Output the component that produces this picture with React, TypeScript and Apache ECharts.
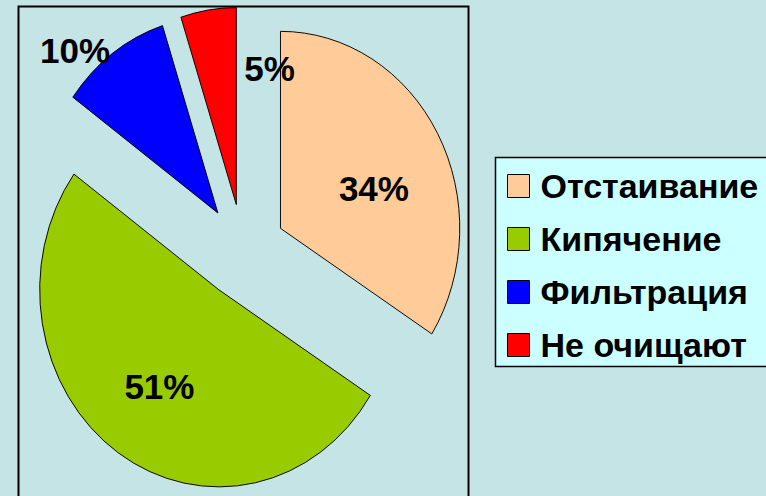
import React, { useEffect, useRef } from "react";
import * as echarts from "echarts";

const categories = ["Отстаивание", "Кипячение", "Фильтрация", "Не очищают"];
const values = [34, 51, 10, 5];
const colors = ["#FFCC99", "#99CC00", "#0000FF", "#FF0000"];

// layout (not data): pie centre, radius, horizontal squash, explode distance
const CX = 243;
const CY = 251;
const R = 197;
const K = 0.91;
const EXPLODE = 47;
// label placement per slice: [clock angle in degrees, distance from slice apex]
const labelPlace: [number, number][] = [
  [69, 110],
  [214, 117],
  [316, 226],
  [15, 141],
];

const FONT = '"Liberation Sans", Arial, sans-serif';

export default function App() {
  const ref = useRef<HTMLDivElement>(null);
  useEffect(() => {
    if (!ref.current) return;
    const chart = echarts.init(ref.current, null, { renderer: "svg" });
    const total = values.reduce((a, b) => a + b, 0);

    const series = categories.map((name, i) => ({
      type: "custom",
      name,
      coordinateSystem: "none",
      silent: true,
      z: 2,
      itemStyle: { color: colors[i] },
      data: [values[i]],
      renderItem: (params: any, api: any) => {
        const v = api.value(0) as number;
        const cum = values.slice(0, i).reduce((a, b) => a + b, 0);
        const a0 = -Math.PI / 2 + (2 * Math.PI * cum) / total;
        const a1 = -Math.PI / 2 + (2 * Math.PI * (cum + v)) / total;
        const mid = (a0 + a1) / 2;
        const ox = EXPLODE * Math.cos(mid);
        const oy = EXPLODE * Math.sin(mid);
        const apexX = CX + K * ox;
        const apexY = CY + oy;
        const [deg, dist] = labelPlace[i];
        const th = (deg * Math.PI) / 180;
        const lx = apexX + K * dist * Math.sin(th);
        const ly = apexY - dist * Math.cos(th);
        return {
          type: "group",
          children: [
            {
              type: "sector",
              x: CX,
              y: CY,
              scaleX: K,
              shape: {
                cx: ox,
                cy: oy,
                r: R,
                r0: 0,
                startAngle: a0,
                endAngle: a1,
                clockwise: true,
              },
              style: {
                fill: colors[i],
                stroke: "#000",
                lineWidth: 1,
                strokeNoScale: true,
              },
            },
            {
              type: "text",
              x: lx,
              y: ly,
              z2: 10,
              style: {
                text: `${v}%`,
                fill: "#000",
                fontSize: 35,
                fontWeight: "bold",
                fontFamily: FONT,
                align: "center",
                verticalAlign: "middle",
              },
            },
          ],
        };
      },
    }));

    chart.setOption({
      animation: false,
      backgroundColor: "#C4E4E5",
      graphic: [
        {
          type: "rect",
          z: 0,
          silent: true,
          shape: { x: 18.5, y: 6.5, width: 450, height: 600 },
          style: { fill: "#C4E4E5", stroke: "#000", lineWidth: 2 },
        },
        {
          type: "rect",
          z: 3,
          silent: true,
          shape: { x: 495.5, y: 157.5, width: 320, height: 209 },
          style: { fill: "#CCFFFF", stroke: "#000", lineWidth: 1.5 },
        },
      ],
      legend: {
        orient: "vertical",
        left: 507,
        top: 169,
        padding: 0,
        itemWidth: 22,
        itemHeight: 23,
        itemGap: 19,
        icon: "rect",
        selectedMode: false,
        z: 5,
        itemStyle: { borderColor: "#000", borderWidth: 1 },
        data: categories,
        textStyle: {
          fontSize: 34,
          fontWeight: "bold",
          fontFamily: FONT,
          color: "#000",
          lineHeight: 30,
          padding: [0, 0, 0, 6],
        },
      },
      series,
    } as any);
    return () => chart.dispose();
  }, []);
  return (
    <div
      ref={ref}
      style={{ position: "absolute", left: 0, top: 0, width: 766, height: 496 }}
    />
  );
}
